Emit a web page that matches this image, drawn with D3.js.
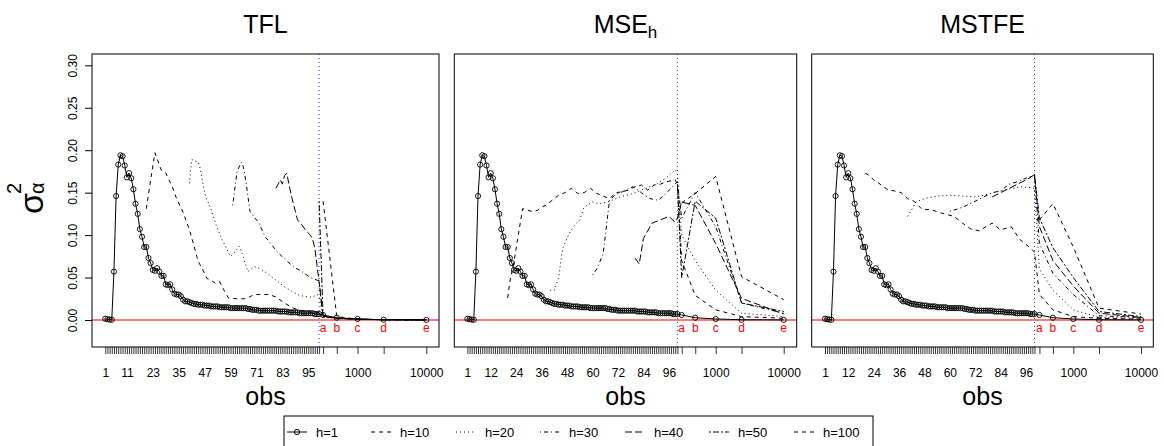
<!DOCTYPE html>
<html><head><meta charset="utf-8">
<script src="https://cdn.jsdelivr.net/npm/d3@7"></script>
<style>body{margin:0;background:#fff}svg{font-family:"Liberation Sans",Arial,sans-serif}</style>
</head><body><svg id="c" width="1164" height="446"></svg>
<script>
// ---------------- data ----------------
const seriesNames = ["h=1","h=10","h=20","h=30","h=40","h=50","h=100"];
const panelTitles = ["TFL","MSE","MSTFE"];
const tailObs = [316, 500, 1000, 2400, 10000];
const tailLetters = ["a","b","c","d","e"];
const tailTickLabels = ["", "", "1000", "", "10000"];
const tickLabelsTFL = [1,11,23,35,47,59,71,83,95];
const tickLabelsOther = [1,12,24,36,48,60,72,84,96];
const yTicks = [0,0.05,0.10,0.15,0.20,0.25,0.30];

const h1Values = [0.0015,0.001,0.0005,0.0003,0.057,0.146,0.183,0.194,0.193,0.182,
0.168,0.173,0.167,0.154,0.137,0.125,0.107,0.098,0.086,0.086,
0.073,0.067,0.059,0.058,0.061,0.057,0.052,0.052,0.042,0.041,
0.042,0.036,0.031,0.030,0.030,0.028,0.024,0.022,0.022,0.021,
0.020,0.019,0.019,0.018,0.018,0.018,0.017,0.017,0.017,0.016,
0.016,0.016,0.016,0.015,0.015,0.015,0.015,0.015,0.014,0.014,
0.014,0.014,0.014,0.014,0.014,0.014,0.013,0.013,0.012,0.012,
0.012,0.011,0.011,0.011,0.011,0.011,0.011,0.011,0.011,0.011,
0.010,0.010,0.010,0.010,0.010,0.009,0.009,0.009,0.009,0.009,
0.008,0.008,0.008,0.008,0.008,0.008,0.008,0.007,0.007,0.007];
const h1Tail = [0.0059,0.0027,0.0012,0.0003,0.0001];

// TFL panel
const tflH10 = [[20,0.131],[22,0.165],[24,0.197],[27,0.176],[29,0.173],[32,0.157],[34,0.143],[37,0.127],[40,0.106],[42,0.088],[44,0.069],[46,0.060],[48,0.049],[50,0.047],[52,0.043],[54,0.045],[56,0.035],[58,0.026],[62,0.025],[66,0.025],[70,0.030],[74,0.030],[77,0.030],[80,0.027],[84,0.020],[88,0.014],[92,0.011],[96,0.009],[100,0.008],[316,0.005],[500,0.002],[1000,0.001],[2400,0.0003],[10000,0.0001]];
const tflH20 = [[40,0.161],[41,0.189],[44,0.186],[45,0.178],[47,0.149],[50,0.130],[52,0.114],[55,0.095],[57,0.085],[59,0.075],[61,0.080],[63,0.087],[65,0.074],[67,0.057],[70,0.063],[73,0.060],[76,0.055],[78,0.051],[81,0.045],[84,0.039],[88,0.033],[91,0.029],[95,0.027],[97,0.027],[99,0.030],[100,0.028],[316,0.004],[500,0.002],[1000,0.001],[2400,0.0003],[10000,0.0001]];
const tflH30 = [[60,0.135],[62,0.175],[64,0.186],[65,0.180],[66,0.165],[68,0.128],[70,0.121],[72,0.115],[75,0.098],[77,0.092],[80,0.082],[84,0.072],[88,0.063],[92,0.057],[96,0.050],[100,0.046],[316,0.004],[500,0.002],[1000,0.001],[2400,0.0003],[10000,0.0001]];
const tflH40 = [[80,0.155],[82,0.165],[83,0.160],[84,0.170],[85,0.173],[87,0.148],[89,0.128],[90,0.118],[92,0.112],[94,0.105],[96,0.100],[97,0.095],[98,0.085],[99,0.065],[100,0.045],[316,0.004],[500,0.002],[1000,0.001],[2400,0.0003],[10000,0.0001]];
const tflH50 = [[100,0.140],[316,0.005],[500,0.002],[1000,0.001],[2400,0.0003],[10000,0.0001]];
const tflH100 = [[316,0.140],[500,0.004],[1000,0.001],[2400,0.0003],[10000,0.0001]];

// MSE_h panel
const mseH10 = [[20,0.026],[21,0.045],[23,0.069],[25,0.100],[27,0.131],[29,0.130],[31,0.128],[34,0.129],[36,0.133],[38,0.135],[41,0.141],[44,0.147],[47,0.150],[50,0.155],[53,0.149],[56,0.150],[59,0.155],[62,0.149],[65,0.146],[68,0.143],[71,0.150],[74,0.151],[77,0.153],[80,0.157],[83,0.159],[86,0.153],[89,0.159],[92,0.160],[95,0.163],[99,0.165],[100,0.160],[316,0.070],[500,0.029],[1000,0.012],[2400,0.004],[10000,0.002]];
const mseH20 = [[40,0.035],[42,0.035],[44,0.050],[46,0.085],[49,0.102],[51,0.110],[54,0.118],[56,0.133],[60,0.139],[63,0.137],[67,0.139],[73,0.145],[79,0.149],[85,0.155],[90,0.160],[95,0.168],[99,0.177],[100,0.172],[316,0.100],[500,0.070],[1000,0.035],[2400,0.008],[10000,0.004]];
const mseH30 = [[60,0.053],[62,0.060],[65,0.078],[67,0.120],[68,0.141],[71,0.148],[74,0.151],[79,0.157],[83,0.150],[87,0.143],[91,0.141],[94,0.148],[97,0.155],[100,0.163],[316,0.120],[500,0.150],[1000,0.110],[2400,0.020],[10000,0.008]];
const mseH40 = [[80,0.073],[82,0.066],[84,0.096],[88,0.114],[92,0.118],[96,0.122],[99,0.115],[100,0.120],[316,0.139],[500,0.135],[1000,0.090],[2400,0.0255],[10000,0.007]];
const mseH50 = [[100,0.160],[316,0.050],[500,0.140],[1000,0.120],[2400,0.020],[10000,0.010]];
const mseH100 = [[316,0.138],[500,0.149],[1000,0.169],[2400,0.051],[10000,0.024]];

// MSTFE panel
const mstH10 = [[20,0.173],[22,0.170],[24,0.165],[26,0.162],[28,0.158],[31,0.153],[34,0.152],[37,0.150],[40,0.143],[43,0.140],[47,0.130],[51,0.130],[56,0.126],[62,0.122],[66,0.114],[70,0.107],[74,0.105],[77,0.110],[80,0.114],[84,0.106],[89,0.110],[93,0.095],[98,0.085],[100,0.080],[316,0.030],[500,0.012],[1000,0.004],[2400,0.002],[10000,0.001]];
const mstH20 = [[40,0.122],[42,0.130],[44,0.139],[48,0.143],[54,0.146],[60,0.147],[66,0.146],[72,0.145],[78,0.148],[84,0.152],[89,0.155],[94,0.157],[98,0.156],[100,0.155],[316,0.060],[500,0.035],[1000,0.012],[2400,0.003],[10000,0.002]];
const mstH30 = [[60,0.128],[64,0.131],[68,0.135],[72,0.140],[76,0.145],[80,0.150],[84,0.152],[88,0.160],[92,0.163],[96,0.167],[100,0.171],[316,0.090],[500,0.055],[1000,0.030],[2400,0.005],[10000,0.003]];
const mstH40 = [[80,0.145],[84,0.150],[88,0.155],[92,0.160],[96,0.165],[100,0.171],[316,0.110],[500,0.070],[1000,0.040],[2400,0.008],[10000,0.003]];
const mstH50 = [[100,0.171],[316,0.120],[500,0.085],[1000,0.050],[2400,0.010],[10000,0.004]];
const mstH100 = [[316,0.118],[500,0.137],[1000,0.086],[2400,0.014],[10000,0.007]];

const panelSeries = [
  [tflH10, tflH20, tflH30, tflH40, tflH50, tflH100],
  [mseH10, mseH20, mseH30, mseH40, mseH50, mseH100],
  [mstH10, mstH20, mstH30, mstH40, mstH50, mstH100]
];
const panelTickLabels = [tickLabelsTFL, tickLabelsOther, tickLabelsOther];

// ---------------- layout / style ----------------
const dashes = [null, "4,4", "1,3", "1,3,4,3", "7,3", "2,2,6,2", "4,4"];
const geo = [
  {left:92,    right:439,    x1:105.3, x100:319.1, x1000:357.5, x10000:426.3},
  {left:454.3, right:796.7,  x1:467.4, x100:677.4, x1000:715.7, x10000:783.7},
  {left:811.7, right:1153.3, x1:825.0, x100:1034.5,x1000:1073.3,x10000:1141.0}
];
const plotTop = 54, plotBottom = 347;
const y = d3.scaleLinear().domain([0, 0.30]).range([320, 65.3]);

const svg = d3.select("#c");

geo.forEach((g, p) => {
  const lin = d3.scaleLinear().domain([1, 100]).range([g.x1, g.x100]);
  const lg = d3.scaleLog().domain([1000, 10000]).range([g.x1000, g.x10000]);
  const x = v => v <= 100 ? lin(v) : lg(v);
  const G = svg.append("g");

  // reference lines
  G.append("line").attr("x1", g.left).attr("x2", g.right)
    .attr("y1", y(0)).attr("y2", y(0))
    .attr("stroke", "#ff0000").attr("stroke-width", 1.6).attr("stroke-opacity", 0.7);
  G.append("line").attr("x1", x(100)).attr("x2", x(100))
    .attr("y1", plotTop).attr("y2", plotBottom)
    .attr("stroke", "#0000ff").attr("stroke-width", 1).attr("stroke-dasharray", "1,3").attr("stroke-opacity", 0.8);

  // series
  const line = d3.line().x(d => x(d[0])).y(d => y(d[1]));
  panelSeries[p].forEach((s, i) => {
    G.append("path").attr("d", line(s)).attr("fill", "none")
      .attr("stroke", "#000").attr("stroke-width", 1)
      .attr("stroke-dasharray", dashes[i + 1]);
  });

  // h=1 series
  const h1 = h1Values.map((v, i) => [i + 1, v]).concat(tailObs.map((o, i) => [o, h1Tail[i]]));
  G.append("path").attr("d", line(h1)).attr("fill", "none").attr("stroke", "#000").attr("stroke-width", 1);
  G.selectAll("circle.h1").data(h1).join("circle")
    .attr("cx", d => x(d[0])).attr("cy", d => y(d[1])).attr("r", 2.6)
    .attr("fill", "none").attr("stroke", "#000").attr("stroke-width", 0.9);

  // letters
  G.selectAll("text.lt").data(tailObs).join("text")
    .attr("x", d => x(d)).attr("y", 332).attr("text-anchor", "middle")
    .attr("font-size", 12).attr("fill", "#ff0000").text((d, i) => tailLetters[i]);

  // box
  G.append("rect").attr("x", g.left).attr("y", plotTop).attr("width", g.right - g.left).attr("height", plotBottom - plotTop)
    .attr("fill", "none").attr("stroke", "#000").attr("stroke-width", 1);

  // x axis (comb 1..100)
  const labs = panelTickLabels[p];
  const ax1 = G.append("g").attr("transform", `translate(0,${plotBottom})`)
    .call(d3.axisBottom(lin).tickValues(d3.range(1, 101)).tickSize(7).tickSizeOuter(0)
      .tickFormat(d => labs.includes(d) ? d : ""));
  const ax2 = G.append("g").attr("transform", `translate(0,${plotBottom})`)
    .call(d3.axisBottom(lg).tickValues(tailObs).tickSize(7).tickSizeOuter(0)
      .tickFormat((d, i) => tailTickLabels[i]));
  [ax1, ax2].forEach(a => {
    a.select(".domain").remove();
    a.selectAll("line").attr("stroke", "#000").attr("stroke-width", 0.8);
    a.selectAll("text").attr("y", 29.5).attr("dy", 0).attr("font-size", 12)
      .attr("fill", "#000").attr("font-family", "Liberation Sans, Arial, sans-serif");
  });

  // title
  const cx = (g.left + g.right) / 2;
  const t = G.append("text").attr("x", cx).attr("y", 33).attr("text-anchor", "middle")
    .attr("font-size", 25).text(panelTitles[p]);
  if (p === 1) t.append("tspan").attr("font-size", 17).attr("dy", 5).text("h");

  // x label
  G.append("text").attr("x", cx).attr("y", 405).attr("text-anchor", "middle")
    .attr("font-size", 25).text("obs");

  // y axis only on first panel
  if (p === 0) {
    const ay = G.append("g").attr("transform", `translate(${g.left},0)`)
      .call(d3.axisLeft(y).tickValues(yTicks).tickSize(7).tickSizeOuter(0).tickFormat(d3.format(".2f")));
    ay.select(".domain").remove();
    ay.selectAll("line").attr("stroke", "#000");
    ay.selectAll("text").attr("transform", "rotate(-90)").attr("x", 0).attr("y", -15.5).attr("dy", 0)
      .attr("text-anchor", "middle").attr("font-size", 12).attr("fill", "#000")
      .attr("font-family", "Liberation Sans, Arial, sans-serif");
  }
});

// y label sigma^2_alpha
const yl = svg.append("g").attr("transform", "translate(43,214) rotate(-90)");
yl.append("text").attr("x", 0).attr("y", 0).attr("font-size", 34).text("σ");
yl.append("text").attr("x", 20).attr("y", -22).attr("font-size", 20).text("2");
yl.append("text").attr("x", 20).attr("y", 1).attr("font-size", 20).text("α");

// legend
const leg = svg.append("g");
leg.append("rect").attr("x", 284).attr("y", 416).attr("width", 589).attr("height", 40)
  .attr("fill", "#fff").attr("stroke", "#000").attr("stroke-width", 1);
const legX = [287, 371, 456, 540, 625, 709, 794];
seriesNames.forEach((n, i) => {
  const lx = legX[i], ly = 432;
  leg.append("line").attr("x1", lx).attr("x2", lx + 20).attr("y1", ly).attr("y2", ly)
    .attr("stroke", "#000").attr("stroke-width", 1).attr("stroke-dasharray", dashes[i]);
  if (i === 0) leg.append("circle").attr("cx", lx + 10).attr("cy", ly).attr("r", 2.6)
    .attr("fill", "none").attr("stroke", "#000");
  leg.append("text").attr("x", lx + 29).attr("y", ly + 4.5).attr("font-size", 13).text(n);
});
</script></body></html>
